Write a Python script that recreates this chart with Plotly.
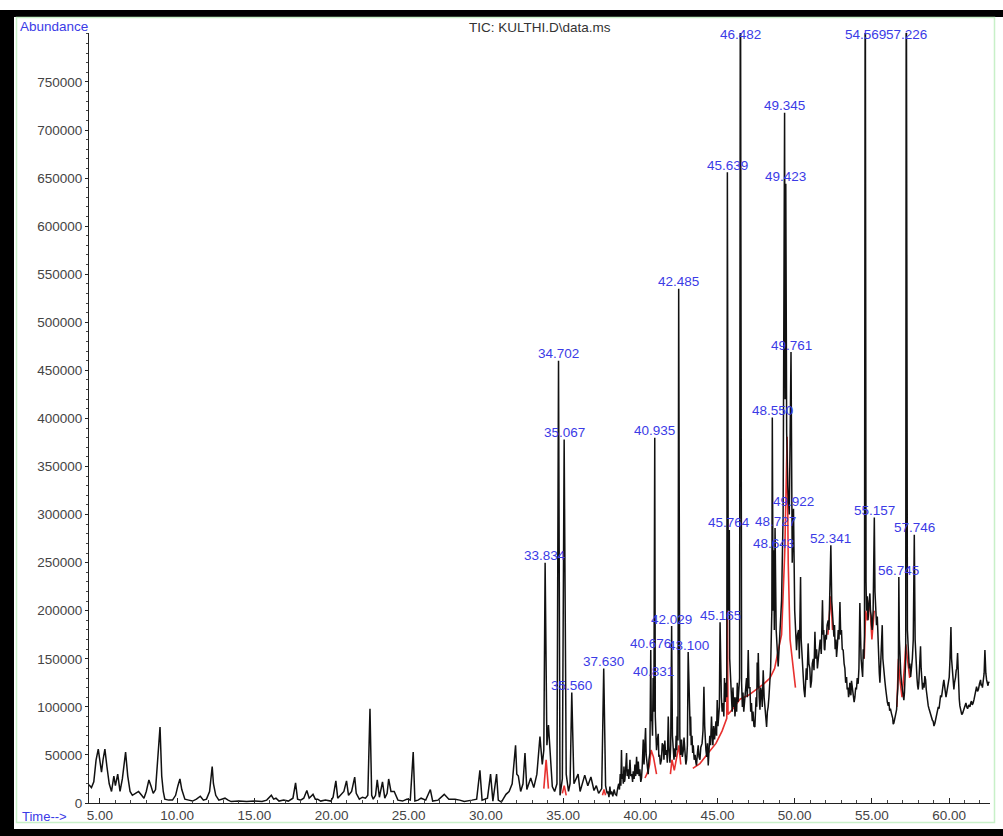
import plotly.graph_objects as go

# ---------------- data ----------------
# TIC trace, in three consecutive stretches: retention time (min), abundance (thousands)
early_t = [
    4.29, 4.45, 4.6, 4.75, 4.89, 5.0, 5.1, 5.2, 5.32, 5.45,
    5.6, 5.75, 5.9, 6.0, 6.15, 6.3, 6.45, 6.66, 6.8, 6.95,
    7.1, 7.3, 7.5, 7.7, 7.85, 8.0, 8.17, 8.3, 8.45, 8.6,
    8.75, 8.89, 9.0, 9.1, 9.2, 9.45, 9.7, 9.9, 10.05, 10.18,
    10.3, 10.5, 10.75, 11.0, 11.25, 11.5, 11.7, 11.9, 12.1, 12.27,
    12.35, 12.5, 12.7, 12.9, 13.1, 13.3, 13.5, 14.0, 14.5, 15.0,
    15.5, 15.8, 16.1, 16.25, 16.4, 16.6, 16.9, 17.2, 17.5, 17.67,
    17.8, 18.0, 18.2, 18.4, 18.55, 18.8, 18.95, 19.1, 19.3, 19.6,
    19.95, 20.1, 20.28, 20.4, 20.6, 20.8, 20.97, 21.1, 21.3, 21.5,
    21.6, 21.8, 22.0, 22.2, 22.35, 22.49, 22.6, 22.7, 22.85, 22.96,
    23.1, 23.3, 23.45, 23.6, 23.7, 23.85, 24.06, 24.3, 24.6, 24.9,
    25.1, 25.29, 25.4, 25.6, 25.8, 26.1, 26.4, 26.55, 26.9, 27.3,
    27.6, 28.0, 28.3, 28.6, 29.1, 29.4, 29.61, 29.75, 30.1, 30.3,
    30.45, 30.69, 30.8, 31.0, 31.3, 31.5, 31.7, 31.92, 32.0, 32.1,
    32.25, 32.4, 32.53, 32.65, 32.9, 33.1, 33.3, 33.5, 33.65, 33.75,
    33.834, 33.95, 34.05, 34.15, 34.3, 34.45, 34.6, 34.702, 34.8, 34.95,
    35.067, 35.2, 35.35, 35.45, 35.56, 35.7, 35.85, 35.97, 36.1, 36.25,
    36.4, 36.6, 36.8, 37.0, 37.15, 37.3, 37.5, 37.63,
]
early_k = [
    19, 16, 22, 45, 56, 40, 32, 45, 56, 38,
    20, 12, 28, 18, 30, 12, 25, 53, 28, 12,
    8, 10, 12, 8, 5, 12, 24, 18, 10, 14,
    45, 79, 28, 12, 4, 3, 3, 8, 18, 25,
    14, 4, 3, 2, 4, 7, 3, 4, 12, 38,
    20, 8, 3, 4, 5, 3, 1.5, 2, 1.5, 2,
    1.5, 3, 8, 4, 5, 2, 3, 2, 5, 21,
    4, 3, 5, 13, 5, 9, 4, 4, 2, 3,
    2, 6, 23, 5, 8, 12, 23, 8, 12, 27,
    10, 4, 6, 5, 8, 98, 8, 4, 8, 24,
    6, 22, 5, 10, 25, 12, 12, 3, 2, 4,
    3, 53, 2, 3, 5, 3, 14, 2, 3, 9,
    4, 4, 3, 1.5, 3, 4, 34, 3, 5, 30,
    2, 30, 3, 1, 9, 12, 20, 60, 30, 28,
    12, 20, 52, 14, 26, 16, 30, 69, 40, 55,
    250, 60, 81, 50, 17, 12, 20, 460, 8, 25,
    378, 30, 12, 20, 115, 20, 25, 30, 12, 20,
    29, 18, 27, 13, 18, 10, 15, 140,
]
mid_t = [
    37.75, 37.85, 37.9, 37.97, 38.03, 38.08, 38.14, 38.22, 38.3, 38.38,
    38.46, 38.53, 38.6, 38.65, 38.7, 38.74, 38.78, 38.82, 38.86, 38.9,
    38.94, 38.97, 39.0, 39.05, 39.11, 39.15, 39.2, 39.26, 39.33, 39.38,
    39.45, 39.5, 39.54, 39.6, 39.65, 39.7, 39.76, 39.81, 39.87, 39.92,
    39.97, 40.03, 40.08, 40.13, 40.19, 40.24, 40.3, 40.34, 40.38, 40.42,
    40.47, 40.51, 40.56, 40.62, 40.676, 40.71, 40.75, 40.79, 40.831, 40.88,
    40.935, 40.97, 41.0, 41.05, 41.1, 41.16, 41.2, 41.25, 41.3, 41.37,
    41.42, 41.48, 41.53, 41.59, 41.64, 41.7, 41.75, 41.81, 41.86, 41.92,
    41.97, 42.029, 42.08, 42.12, 42.18, 42.24, 42.28, 42.32, 42.36, 42.39,
    42.44, 42.485, 42.52, 42.56, 42.61, 42.67, 42.72, 42.78, 42.83, 42.89,
    42.95, 43.0, 43.05, 43.1, 43.15, 43.2, 43.23, 43.26, 43.3, 43.35,
    43.39, 43.43, 43.49, 43.55, 43.6, 43.64, 43.7, 43.75, 43.8, 43.86,
    43.92, 44.0, 44.06, 44.12, 44.17, 44.21, 44.25, 44.3, 44.35, 44.4,
    44.45, 44.5, 44.55, 44.61, 44.66, 44.7, 44.75, 44.81, 44.85, 44.9,
    44.94, 44.98, 45.03, 45.08, 45.12, 45.165, 45.21, 45.25, 45.3, 45.37,
    45.41, 45.45, 45.5, 45.55, 45.6, 45.639, 45.7, 45.764, 45.79, 45.82,
    45.87, 45.91, 45.95, 46.0, 46.05, 46.09, 46.13, 46.17, 46.2, 46.24,
    46.28, 46.33, 46.38, 46.43, 46.482, 46.52, 46.56, 46.61, 46.65, 46.7,
    46.77, 46.82, 46.88, 46.93, 46.99, 47.04, 47.1, 47.15, 47.2, 47.25,
    47.3, 47.36, 47.42, 47.46, 47.5, 47.54, 47.57, 47.61, 47.64, 47.7,
    47.75, 47.8, 47.85, 47.9, 47.96, 48.02, 48.07, 48.12, 48.18, 48.23,
    48.28, 48.33, 48.39, 48.44, 48.48, 48.52,
]
mid_k = [
    18, 10, 12, 6, 17, 9, 12, 7, 14, 9,
    8, 15, 20, 14, 30, 18, 55, 25, 30, 20,
    38, 22, 24, 35, 52, 28, 35, 25, 45, 28,
    30, 22, 33, 25, 40, 28, 48, 30, 43, 28,
    35, 22, 26, 40, 66, 40, 70, 78, 50, 45,
    35, 30, 45, 52, 159, 85, 90, 70, 130, 95,
    380, 90, 80, 55, 65, 72, 48, 50, 40, 45,
    62, 60, 45, 65, 50, 55, 42, 90, 55, 42,
    60, 184, 70, 60, 45, 57, 48, 70, 55, 90,
    65, 535, 80, 70, 50, 66, 48, 54, 68, 55,
    40, 45, 60, 157, 100, 95, 70, 90, 60, 70,
    52, 60, 45, 50, 42, 39, 52, 60, 48, 45,
    58, 62, 75, 121, 80, 60, 55, 48, 62, 39,
    55, 70, 60, 90, 70, 60, 80, 66, 75, 85,
    70, 107, 80, 90, 100, 188, 115, 110, 95, 104,
    90, 130, 105, 125, 110, 656, 200, 284, 150, 140,
    110, 104, 95, 120, 100, 110, 90, 100, 110, 95,
    125, 105, 115, 130, 950, 140, 125, 100, 115, 95,
    107, 120, 130, 110, 159, 120, 120, 95, 104, 85,
    95, 80, 79, 95, 110, 100, 146, 120, 156, 110,
    97, 120, 115, 100, 138, 110, 100, 88, 79, 95,
    100, 110, 125, 140, 170, 200,
]
late_t = [
    48.55, 48.6, 48.643, 48.68, 48.727, 48.8, 48.93, 49.05, 49.15, 49.25,
    49.345, 49.38, 49.423, 49.48, 49.55, 49.65, 49.761, 49.84, 49.922, 50.0,
    50.06, 50.12, 50.18, 50.25, 50.3, 50.38, 50.42, 50.45, 50.5, 50.55,
    50.6, 50.66, 50.7, 50.75, 50.8, 50.87, 50.92, 50.98, 51.03, 51.09,
    51.14, 51.2, 51.25, 51.31, 51.36, 51.42, 51.47, 51.52, 51.58, 51.65,
    51.72, 51.8, 51.84, 51.88, 51.92, 51.95, 52.0, 52.05, 52.1, 52.17,
    52.22, 52.28, 52.341, 52.4, 52.45, 52.5, 52.54, 52.58, 52.62, 52.67,
    52.71, 52.77, 52.82, 52.87, 52.93, 52.98, 53.03, 53.08, 53.14, 53.2,
    53.25, 53.3, 53.36, 53.4, 53.45, 53.49, 53.53, 53.57, 53.6, 53.64,
    53.68, 53.74, 53.8, 53.85, 53.9, 53.95, 54.0, 54.05, 54.11, 54.16,
    54.22, 54.26, 54.3, 54.35, 54.4, 54.44, 54.48, 54.52, 54.569, 54.62,
    54.65, 54.7, 54.75, 54.8, 54.87, 54.91, 54.95, 54.98, 55.02, 55.08,
    55.157, 55.2, 55.25, 55.3, 55.35, 55.4, 55.45, 55.48, 55.52, 55.56,
    55.6, 55.64, 55.67, 55.71, 55.75, 55.8, 55.84, 55.9, 55.95, 56.0,
    56.06, 56.1, 56.15, 56.2, 56.27, 56.31, 56.35, 56.38, 56.42, 56.46,
    56.5, 56.55, 56.6, 56.64, 56.68, 56.72, 56.745, 56.78, 56.82, 56.87,
    56.92, 56.96, 57.0, 57.04, 57.07, 57.11, 57.15, 57.19, 57.226, 57.27,
    57.3, 57.35, 57.38, 57.42, 57.46, 57.51, 57.56, 57.62, 57.68, 57.746,
    57.8, 57.85, 57.88, 57.92, 57.96, 58.0, 58.04, 58.08, 58.12, 58.15,
    58.19, 58.22, 58.25, 58.28, 58.33, 58.38, 58.43, 58.48, 58.52, 58.56,
    58.6, 58.65, 58.7, 58.75, 58.8, 58.87, 58.92, 58.97, 59.02, 59.08,
    59.13, 59.18, 59.24, 59.3, 59.35, 59.4, 59.45, 59.51, 59.55, 59.6,
    59.63, 59.66, 59.7, 59.75, 59.8, 59.84, 59.88, 59.93, 59.97, 60.01,
    60.06, 60.12, 60.16, 60.2, 60.24, 60.27, 60.31, 60.35, 60.39, 60.42,
    60.46, 60.5, 60.55, 60.58, 60.62, 60.66, 60.7, 60.74, 60.78, 60.82,
    60.87, 60.92, 60.98, 61.03, 61.09, 61.14, 61.2, 61.27, 61.35, 61.4,
    61.45, 61.5, 61.56, 61.62, 61.67, 61.72, 61.78, 61.84, 61.9, 61.97,
    62.04, 62.08, 62.12, 62.16, 62.21, 62.27, 62.32, 62.35, 62.38, 62.43,
    62.47, 62.52, 62.56, 62.6,
]
late_k = [
    401, 200, 263, 180, 286, 180, 142, 180, 211, 300,
    718, 420, 644, 385, 330, 300, 469, 250, 306, 200,
    170, 159, 175, 180, 150, 235, 170, 160, 140, 131,
    118, 110, 125, 140, 128, 166, 145, 140, 120, 127,
    145, 150, 138, 178, 150, 160, 140, 150, 165, 170,
    155, 211, 175, 180, 160, 159, 175, 170, 185, 190,
    180, 215, 268, 210, 200, 185, 173, 185, 160, 170,
    152, 165, 180, 170, 209, 175, 180, 160, 159, 145,
    140, 125, 131, 118, 120, 110, 114, 125, 120, 112,
    127, 118, 115, 105, 110, 120, 118, 130, 124, 140,
    208, 160, 150, 140, 131, 160, 150, 175, 950, 230,
    200, 215, 190, 205, 218, 200, 195, 185, 180, 200,
    297, 220, 200, 185, 194, 165, 150, 135, 125, 140,
    150, 165, 185, 150, 140, 132, 127, 118, 110, 105,
    101, 105, 96, 98, 93, 90, 88, 82, 83, 86,
    90, 95, 97, 110, 120, 150, 235, 170, 150, 135,
    125, 118, 115, 110, 107, 115, 130, 150, 950, 200,
    180, 163, 150, 140, 145, 131, 140, 150, 170, 279,
    170, 146, 135, 130, 122, 118, 125, 140, 150, 163,
    140, 130, 125, 118, 125, 120, 132, 128, 118, 110,
    105, 101, 98, 95, 92, 90, 86, 85, 80, 83,
    88, 92, 96, 100, 98, 105, 112, 110, 118, 120,
    125, 128, 122, 118, 110, 114, 118, 122, 128, 131,
    150, 183, 150, 140, 128, 121, 118, 125, 128, 131,
    138, 140, 156, 135, 120, 108, 101, 96, 97, 92,
    93, 96, 98, 102, 104, 100, 98, 102, 100, 104,
    106, 102, 104, 108, 112, 118, 121, 116, 118, 124,
    128, 122, 124, 120, 125, 135, 159, 140, 135, 128,
    125, 122, 126, 125,
]

# second (red) overlay signal, visible at the feet of the large peaks
red_time = [
    33.75, 33.9, 34.05, None,
    34.95, 35.07, 35.2, None,
    37.55, 37.65, 37.75, None,
    40.3, 40.45, 40.6, 40.7, 40.85, 40.95, 41.05, None,
    41.95, 42.05, 42.2, 42.4, 42.5, 42.62, None,
    43.4, 43.86, 44.4, 44.9, 45.3, 45.6, 45.64, 45.68, 46.0, 46.45,
    47.0, 47.5, 48.0, 48.4, 48.7, 48.95, 49.15, 49.36, 49.47, 49.51,
    49.58, 49.7, 49.9, 50.05, None,
    52.15, 52.25, 52.34, 52.45, None,
    54.5, 54.6, 54.7, 54.85, 55.0, 55.15, None,
    56.62, 56.72, 56.8, 56.95, 57.1, 57.2, 57.3, 57.45,
]
red_k = [
    15, 45, 15, None,
    10, 18, 8, None,
    8, 14, 8, None,
    26, 31, 40, 55, 48, 40, 30, None,
    30, 45, 34, 50, 60, 40, None,
    36, 41, 52, 62, 75, 88, 200, 92, 98, 108,
    112, 118, 124, 130, 140, 160, 175, 263, 367, 381,
    250, 170, 141, 120, None,
    175, 200, 215, 180, None,
    150, 200, 190, 211, 170, 200, None,
    100, 150, 130, 110, 140, 165, 150, 130,
]

# labelled peaks: retention time and apex height (thousands)
peak_times = [33.834, 34.702, 35.067, 35.560, 37.630, 40.676, 40.831, 40.935,
              42.029, 42.485, 43.100, 45.165, 45.639, 45.764, 46.482, 48.550,
              48.643, 48.727, 49.345, 49.423, 49.761, 49.922, 52.341, 54.569,
              55.157, 56.745, 57.226, 57.746]
peak_k = [250, 460, 378, 115, 140, 159, 130, 380,
          184, 535, 157, 188, 656, 284, 950, 401,
          263, 286, 718, 644, 469, 306, 268, 950,
          297, 235, 950, 279]

x_ticks = [5, 10, 15, 20, 25, 30, 35, 40, 45, 50, 55, 60]
y_ticks = list(range(0, 800000, 50000))

assert len(early_t) == len(early_k)
assert len(mid_t) == len(mid_k)
assert len(late_t) == len(late_k)
assert len(red_time) == len(red_k)
assert len(peak_times) == len(peak_k)

time_min = early_t + mid_t + late_t
abundance = [v * 1000 for v in early_k + mid_k + late_k]
red_abundance = [None if v is None else v * 1000 for v in red_k]

# ---------------- figure ----------------
W, H = 1003, 836
ML, MR, MT, MB = 89, 13, 33, 33
PW, PH = W - ML - MR, H - MT - MB
X_RANGE = [4.29, 62.65]
Y_RANGE = [0, 800900]
FONT = "Liberation Sans, Arial, sans-serif"
BLUE = "#3b3be6"


def px(x):
    return (x - ML) / PW


def py(y):
    return (H - MB - y) / PH


fig = go.Figure()
fig.add_trace(go.Scatter(x=red_time, y=red_abundance, mode="lines",
                         line=dict(color="#e8312f", width=1.6),
                         connectgaps=False, hoverinfo="skip", showlegend=False))
fig.add_trace(go.Scatter(x=time_min, y=abundance, mode="lines",
                         line=dict(color="#111111", width=1.5),
                         showlegend=False))

label_top = Y_RANGE[1] - 8 * (Y_RANGE[1] - Y_RANGE[0]) / PH
for t, k in zip(peak_times, peak_k):
    fig.add_annotation(x=t, y=min(k * 1000, label_top), text=f"{t:.3f}",
                       showarrow=False, xanchor="center", yanchor="middle",
                       yshift=7, font=dict(family=FONT, size=13.5, color=BLUE))

# frame: black page background, white card inside, light green inner border
shapes = [
    dict(type="rect", xref="paper", yref="paper", x0=px(14), x1=px(W + 5), y0=py(829), y1=py(17),
         fillcolor="white", line=dict(width=0), layer="below"),
    dict(type="rect", xref="paper", yref="paper", x0=px(-5), x1=px(W + 5), y0=py(10), y1=py(-5),
         fillcolor="white", line=dict(width=0), layer="below"),
    dict(type="rect", xref="paper", yref="paper", x0=px(16.5), x1=px(994.5), y0=py(822.5), y1=py(17.5),
         fillcolor="rgba(0,0,0,0)", line=dict(color="#c8f0c8", width=1.5), layer="below"),
]

fig.add_annotation(xref="paper", yref="paper", x=px(540), y=py(27), text="TIC: KULTHI.D\\data.ms",
                   showarrow=False, xanchor="center", yanchor="middle",
                   font=dict(family=FONT, size=13.5, color="#333333"))
fig.add_annotation(xref="paper", yref="paper", x=px(18), y=py(26), text="Abundance",
                   showarrow=False, xanchor="left", yanchor="middle",
                   font=dict(family=FONT, size=13.5, color=BLUE))
fig.add_annotation(xref="paper", yref="paper", x=px(20), y=py(817), text="Time-->",
                   showarrow=False, xanchor="left", yanchor="middle",
                   font=dict(family=FONT, size=13, color=BLUE))

fig.update_layout(
    width=W, height=H,
    margin=dict(l=ML, r=MR, t=MT, b=MB, pad=0),
    paper_bgcolor="black", plot_bgcolor="white",
    shapes=shapes,
    showlegend=False,
    xaxis=dict(range=X_RANGE, tickmode="array", tickvals=x_ticks,
               ticktext=[f"{v:.2f}" for v in x_ticks],
               showline=True, linecolor="#222", linewidth=1,
               ticks="inside", ticklen=5, tickcolor="#222",
               minor=dict(dtick=1, ticks="inside", ticklen=3, tickcolor="#444"),
               showgrid=False, zeroline=False,
               tickfont=dict(family=FONT, size=13.5, color="#444")),
    yaxis=dict(range=Y_RANGE, tickmode="array", tickvals=y_ticks,
               ticktext=[str(v) for v in y_ticks],
               showline=True, linecolor="#222", linewidth=1,
               ticks="outside", ticklen=3, tickcolor="#222",
               minor=dict(dtick=10000, ticks="outside", ticklen=2, tickcolor="#444"),
               showgrid=False, zeroline=False,
               tickfont=dict(family=FONT, size=13.5, color="#444")),
)

fig.write_html("out.html", config={"displayModeBar": False},
               post_script="document.body.style.margin='0';"
                           "document.body.style.overflow='hidden';")
